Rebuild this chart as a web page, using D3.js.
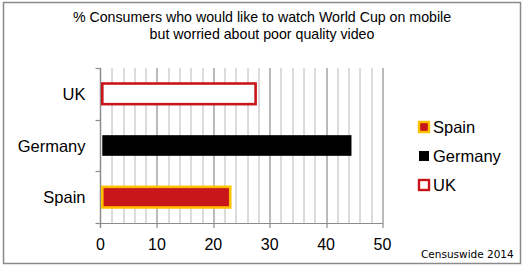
<!DOCTYPE html>
<html>
<head>
<meta charset="utf-8">
<script src="https://cdn.jsdelivr.net/npm/d3@7"></script>
<style>
  body { margin: 0; background: #fff; }
  svg text { font-family: "Liberation Sans", Arial, sans-serif; fill: #000; }
</style>
</head>
<body>
<div id="chart"></div>
<script>
// data
var countries = ["UK", "Germany", "Spain"];
var values = [27.5, 44.5, 23];
var xTicks = [0, 10, 20, 30, 40, 50];
var legendOrder = ["Spain", "Germany", "UK"];
var titleLines = ["% Consumers who would like to watch World Cup on mobile",
                  "but worried about poor quality video"];

var styles = {
    UK:      {fill: "#ffffff", stroke: "#c8161a"},
    Germany: {fill: "#000000", stroke: "#000000"},
    Spain:   {fill: "#c8161a", stroke: "#ffc000"}
};

var width = 524, height = 267;
var margin = {top: 68, left: 100.5, right: 141.5, bottom: 44};
var innerW = width - margin.left - margin.right,
    innerH = height - margin.top - margin.bottom;

var svg = d3.select("#chart").append("svg")
    .attr("width", width)
    .attr("height", height);

// outer frame
svg.append("rect")
    .attr("x", 3.5).attr("y", 2.5)
    .attr("width", 517).attr("height", 261)
    .attr("fill", "none")
    .attr("stroke", "#8a8a8a")
    .attr("stroke-width", 1.5);

// title
svg.selectAll(".title")
    .data(titleLines)
    .enter().append("text")
    .attr("class", "title")
    .attr("x", 262)
    .attr("y", (d, i) => 22 + i * 17)
    .attr("text-anchor", "middle")
    .style("font-size", "14.2px")
    .text(d => d);

var xScale = d3.scaleLinear().domain([0, 50]).range([0, innerW]);
var yScale = d3.scaleBand().domain(countries).range([0, innerH]).paddingInner(0.55).paddingOuter(0.275);
var yBounds = d3.scaleLinear().domain([0, countries.length]).range([0, innerH]);

var g = svg.append("g")
    .attr("transform", "translate(" + margin.left + "," + margin.top + ")");

// grid: minor every 2, major every 10
var minor = d3.range(2, 51, 2).filter(d => d % 10 !== 0);
g.selectAll(".minor")
    .data(minor)
    .enter().append("line")
    .attr("x1", d => Math.round(xScale(d)) + 0.5)
    .attr("x2", d => Math.round(xScale(d)) + 0.5)
    .attr("y1", 0).attr("y2", innerH)
    .attr("stroke", "#b8b8b8").attr("stroke-width", 1);

g.selectAll(".major")
    .data(xTicks.slice(1))
    .enter().append("line")
    .attr("x1", d => Math.round(xScale(d)) + 0.5)
    .attr("x2", d => Math.round(xScale(d)) + 0.5)
    .attr("y1", 0).attr("y2", innerH + 5)
    .attr("stroke", "#8c8c8c").attr("stroke-width", 1.2);

// x axis baseline
g.append("line")
    .attr("x1", -1).attr("x2", innerW + 0.5)
    .attr("y1", innerH + 0.5).attr("y2", innerH + 0.5)
    .attr("stroke", "#8c8c8c").attr("stroke-width", 1.2);

// y axis line and ticks at category boundaries
g.append("line")
    .attr("x1", 0).attr("x2", 0)
    .attr("y1", 0).attr("y2", innerH + 5)
    .attr("stroke", "#8c8c8c").attr("stroke-width", 1.5);

g.selectAll(".ytick")
    .data(d3.range(0, countries.length + 1))
    .enter().append("line")
    .attr("x1", -5).attr("x2", 0)
    .attr("y1", d => Math.round(yBounds(d)) + 0.5)
    .attr("y2", d => Math.round(yBounds(d)) + 0.5)
    .attr("stroke", "#8c8c8c").attr("stroke-width", 1.2);

// x tick labels
g.selectAll(".xlabel")
    .data(xTicks)
    .enter().append("text")
    .attr("x", d => xScale(d))
    .attr("y", innerH + 27)
    .attr("text-anchor", "middle")
    .style("font-size", "16px")
    .text(d => d);

// category labels
g.selectAll(".ylabel")
    .data(countries)
    .enter().append("text")
    .attr("x", -15)
    .attr("y", d => yScale(d) + yScale.bandwidth() / 2 + 6)
    .attr("text-anchor", "end")
    .style("font-size", "16.5px")
    .text(d => d);

// bars
var sw = 2.6;
g.selectAll(".bar")
    .data(countries)
    .enter().append("rect")
    .attr("x", sw / 2 + 0.5)
    .attr("y", d => yScale(d) + sw / 2)
    .attr("width", (d, i) => xScale(values[i]) - sw / 2 - 0.5)
    .attr("height", yScale.bandwidth() - sw)
    .attr("fill", d => styles[d].fill)
    .attr("stroke", d => styles[d].stroke)
    .attr("stroke-width", d => d === "Germany" ? 0 : sw);

// legend
var legend = svg.append("g").attr("transform", "translate(418,0)");
var items = legend.selectAll(".item")
    .data(legendOrder)
    .enter().append("g")
    .attr("transform", (d, i) => "translate(0," + (121 + i * 29) + ")");

items.append("rect")
    .attr("x", 1).attr("y", 1)
    .attr("width", 10).attr("height", 10)
    .attr("fill", d => styles[d].fill)
    .attr("stroke", d => styles[d].stroke)
    .attr("stroke-width", d => d === "Germany" ? 0 : 2.4);

items.append("text")
    .attr("x", 15)
    .attr("y", 12)
    .style("font-size", "16.5px")
    .text(d => d);

// source note
svg.append("text")
    .attr("x", 421)
    .attr("y", 258)
    .style("font-size", "10.5px")
    .style("font-family", "'DejaVu Sans', Verdana, sans-serif")
    .text("Censuswide 2014");
</script>
</body>
</html>
